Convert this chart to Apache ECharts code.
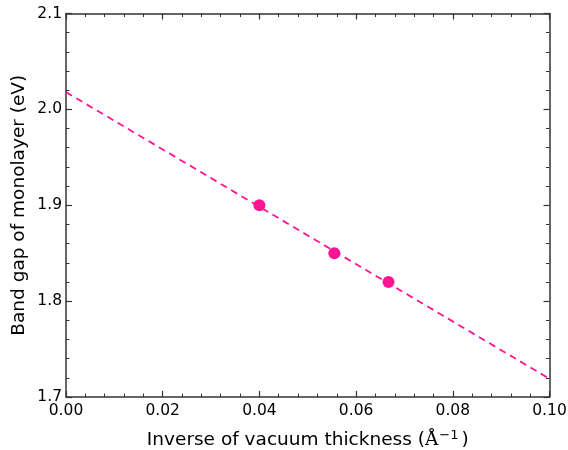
<!DOCTYPE html>
<html>
<head>
<meta charset="utf-8">
<script src="https://cdn.jsdelivr.net/npm/echarts@6/dist/echarts.min.js"></script>
<style>
  html, body { margin: 0; padding: 0; background: #fff; }
  #chart { width: 568px; height: 450px; }
</style>
</head>
<body>
<div id="chart"></div>
<script>
// Band gap of the monolayer versus inverse vacuum thickness
const inverseThickness = [0.04, 0.0555, 0.0667];
const bandGap = [1.90, 1.85, 1.82];

// Linear fit extrapolated across the full axis range
const fitX = [0.0, 0.1];
const fitY = [2.018, 1.719];

const xTickLabels = ['0.00', '0.02', '0.04', '0.06', '0.08', '0.10'];
const yTickLabels = ['1.7', '1.8', '1.9', '2.0', '2.1'];

const PINK = '#ff1493';
const FRAME = '#333333';
const FONT = 'DejaVu Sans';

function frameAxis(extra) {
  return Object.assign({
    axisLine: { show: true, onZero: false, lineStyle: { color: FRAME, width: 1.5 } },
    axisTick: { show: true, inside: true, length: 6, lineStyle: { color: FRAME, width: 1.2 } },
    minorTick: { show: true, splitNumber: 5, length: 3.5, lineStyle: { color: FRAME, width: 1 } },
    splitLine: { show: false },
    minorSplitLine: { show: false }
  }, extra);
}

const chart = echarts.init(document.getElementById('chart'), null, { renderer: 'canvas' });

chart.setOption({
  animation: false,
  backgroundColor: '#fff',
  textStyle: { fontFamily: FONT },
  grid: { left: 66, top: 13.5, right: 18.5, bottom: 53, outerBoundsMode: 'none', containLabel: false },
  xAxis: [
    frameAxis({
      type: 'value', min: 0, max: 0.1, interval: 0.02, position: 'bottom',
      axisLabel: {
        color: '#000', fontSize: 15.5, fontFamily: FONT, margin: 6,
        formatter: v => xTickLabels[Math.round(v / 0.02)]
      },
      name: '{t|Inverse of vacuum thickness (}{a|Å}{s|−1}{t|)}',
      nameLocation: 'middle', nameGap: 32, nameMoveOverlap: false,
      nameTextStyle: {
        rich: {
          t: { fontSize: 18.5, fontFamily: FONT, color: '#000' },
          a: { fontSize: 18.5, fontFamily: 'DejaVu Serif', color: '#000' },
          s: { fontSize: 13, fontFamily: FONT, color: '#000', padding: [0, 3, 10, 1] }
        }
      }
    }),
    frameAxis({
      type: 'value', min: 0, max: 0.1, interval: 0.02, position: 'top',
      axisLabel: { show: false }
    })
  ],
  yAxis: [
    frameAxis({
      type: 'value', min: 1.7, max: 2.1, interval: 0.1, position: 'left',
      axisLabel: {
        color: '#000', fontSize: 15.5, fontFamily: FONT, margin: 4,
        formatter: v => yTickLabels[Math.round((v - 1.7) / 0.1)]
      },
      name: 'Band gap of monolayer (eV)',
      nameLocation: 'middle', nameGap: 37, nameMoveOverlap: false,
      nameTextStyle: { fontSize: 18.5, fontFamily: FONT, color: '#000' }
    }),
    frameAxis({
      type: 'value', min: 1.7, max: 2.1, interval: 0.1, position: 'right',
      axisLabel: { show: false }
    })
  ],
  series: [
    {
      type: 'line',
      data: fitX.map((x, i) => [x, fitY[i]]),
      showSymbol: false,
      lineStyle: { color: PINK, width: 1.8, type: [7, 5] },
      z: 2
    },
    {
      type: 'scatter',
      data: inverseThickness.map((x, i) => [x, bandGap[i]]),
      symbol: 'circle',
      symbolSize: 12,
      itemStyle: { color: PINK, opacity: 1 },
      z: 3
    }
  ]
});
</script>
</body>
</html>
